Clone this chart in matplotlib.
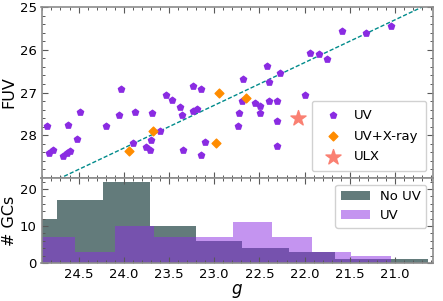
import numpy as np
import matplotlib
matplotlib.use("Agg")
import matplotlib.pyplot as plt
from matplotlib.ticker import MultipleLocator, FixedLocator

# ---- data ----
uv_g = [24.845, 24.826, 24.785, 24.675, 24.63, 24.597, 24.62, 24.513, 24.487, 24.196,
        24.034, 24.049, 23.879, 23.894, 23.685, 23.751, 23.713, 23.699, 23.60, 23.53,
        23.47, 23.378, 23.36, 23.342, 23.231, 23.146, 23.238, 23.187, 23.146, 23.099,
        21.581, 21.326, 21.047, 21.945, 21.839, 21.757, 22.417, 22.273, 22.679, 22.392,
        21.994, 22.693, 22.553, 22.491, 22.398, 22.303, 22.498, 22.73, 22.734, 22.307,
        22.303]
uv_fuv = [27.78, 28.41, 28.34, 28.48, 28.41, 28.38, 27.75, 28.09, 27.45, 27.79,
          26.92, 27.53, 27.46, 28.18, 27.49, 28.27, 28.34, 28.12, 27.91, 27.06,
          27.17, 27.35, 27.52, 28.34, 26.84, 26.92, 27.43, 27.39, 28.47, 28.15,
          25.56, 25.60, 25.45, 26.07, 26.11, 26.21, 26.39, 26.55, 26.69, 26.76,
          27.06, 27.19, 27.24, 27.32, 27.20, 27.21, 27.47, 27.49, 27.79, 27.66,
          28.24]
xray_g = [23.942, 23.677, 22.951, 22.981, 22.653]
xray_fuv = [28.36, 27.90, 27.02, 28.17, 27.13]
ulx_g = [22.075]
ulx_fuv = [27.59]

fit_slope = 1.0
fit_intercept = 4.30

nouv_edges = [25.250, 24.738, 24.225, 23.712, 23.199, 22.687, 22.174, 21.661, 21.149, 20.636]
nouv_counts = [12, 17, 22, 10, 6, 4, 3, 1, 1]
uvh_edges = [24.975, 24.539, 24.102, 23.666, 23.229, 22.793, 22.356, 21.920, 21.483, 21.047]
uvh_counts = [7, 3, 10, 7, 7, 11, 7, 3, 2]

fuv_ticks = [25, 26, 27, 28]
xlim = (24.91, 20.58)

# ---- figure ----
fig = plt.figure(figsize=(4.43, 3.01), dpi=100)
W, H = 443, 301
L, R = 41.5 / W, 433 / W
ax1 = fig.add_axes([L, 1 - 178 / H, R - L, (178 - 7) / H])
ax2 = fig.add_axes([L, 1 - 263 / H, R - L, (263 - 178) / H])

spine_col = '0.55'
for ax in (ax1, ax2):
    for s in ax.spines.values():
        s.set_edgecolor(spine_col)
        s.set_linewidth(1.2)
    ax.tick_params(which='both', direction='in', top=True, right=True,
                   color='0.35', labelsize=9.5)
    ax.tick_params(which='major', length=4, width=0.8)
    ax.tick_params(which='minor', length=2.2, width=0.7)
    ax.xaxis.set_major_locator(MultipleLocator(0.5))
    ax.xaxis.set_minor_locator(MultipleLocator(0.1))
    ax.set_xlim(*xlim)

# top scatter
xx = np.array(xlim)
ax1.plot(xx, fit_slope * xx + fit_intercept, ls='--', color='darkcyan', lw=1.0,
         dashes=(3, 1.5), zorder=1)
ax1.scatter(uv_g, uv_fuv, marker='p', s=22, color='blueviolet', label='UV', zorder=3)
ax1.scatter(xray_g, xray_fuv, marker='D', s=20, color='darkorange', label='UV+X-ray', zorder=4)
ax1.scatter(ulx_g, ulx_fuv, marker='*', s=130, color='salmon', label='ULX', zorder=4)
ax1.set_ylim(29, 25)
ax1.yaxis.set_major_locator(FixedLocator(fuv_ticks))
ax1.yaxis.set_minor_locator(MultipleLocator(0.2))
ax1.set_ylabel('FUV', fontsize=11.5, labelpad=2)
ax1.tick_params(labelbottom=False)
ax1.legend(loc='lower right', fontsize=9.5, handletextpad=0.6, borderpad=0.6,
           labelspacing=0.6, framealpha=0.9)


def draw_hist(ax, edges, counts, **kw):
    e = np.array(edges)[::-1]
    c = np.array(counts)[::-1]
    mids = 0.5 * (e[:-1] + e[1:])
    ax.hist(mids, bins=e, weights=c, **kw)


# bottom histograms
draw_hist(ax2, nouv_edges, nouv_counts, color='darkslategray', alpha=0.75, label='No UV')
draw_hist(ax2, uvh_edges, uvh_counts, color='blueviolet', alpha=0.5, label='UV')
ax2.set_ylim(0, 23)
ax2.yaxis.set_major_locator(MultipleLocator(10))
ax2.yaxis.set_minor_locator(MultipleLocator(2))
ax2.set_ylabel('# GCs', fontsize=11.5, labelpad=2)
ax2.set_xlabel('$g$', fontsize=12, labelpad=1)
ax2.legend(loc='upper right', fontsize=9.5, handlelength=2.2, framealpha=0.9)

fig.savefig('out.png', dpi=100)
